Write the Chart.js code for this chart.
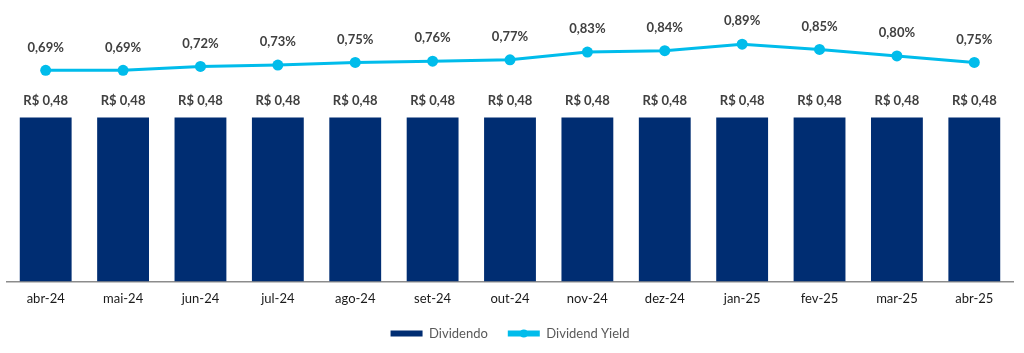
<!DOCTYPE html>
<html>
<head>
<meta charset="utf-8">
<script src="https://cdn.jsdelivr.net/npm/chart.js@4"></script>
<style>
  html, body { margin: 0; padding: 0; background: #fff; }
  #wrap { width: 1024px; height: 353px; }
</style>
</head>
<body>
<div id="wrap"><canvas id="chart"></canvas></div>
<script>
const months = ['abr-24', 'mai-24', 'jun-24', 'jul-24', 'ago-24', 'set-24', 'out-24',
  'nov-24', 'dez-24', 'jan-25', 'fev-25', 'mar-25', 'abr-25'];
const dividendo = [0.48, 0.48, 0.48, 0.48, 0.48, 0.48, 0.48, 0.48, 0.48, 0.48, 0.48, 0.48, 0.48];
const dividendYield = [0.69, 0.69, 0.72, 0.73, 0.75, 0.76, 0.77, 0.83, 0.84, 0.89, 0.85, 0.80, 0.75];

const NAVY = '#002D72';
const CYAN = '#00BCEB';
const FONT = 'Lato, "Open Sans", sans-serif';

const fmt = v => v.toFixed(2).replace('.', ',');

// value labels above bars and points
const valueLabels = {
  id: 'valueLabels',
  afterDatasetsDraw(chart) {
    const ctx = chart.ctx;
    ctx.save();
    ctx.font = 'bold 13px ' + FONT;
    ctx.fillStyle = '#404040';
    ctx.textAlign = 'center';
    ctx.textBaseline = 'middle';
    chart.getDatasetMeta(0).data.forEach((bar, i) => {
      ctx.fillText('R$ ' + fmt(dividendo[i]), bar.x, bar.y - 17);
    });
    chart.getDatasetMeta(1).data.forEach((pt, i) => {
      ctx.fillText(fmt(dividendYield[i]) + '%', pt.x, pt.y - 23);
    });
    ctx.restore();
  }
};

// dot in the middle of the line legend swatch
const legendDot = {
  id: 'legendDot',
  afterDraw(chart) {
    const lg = chart.legend;
    if (!lg || !lg.legendHitBoxes[1]) return;
    const hb = lg.legendHitBoxes[1];
    const ctx = chart.ctx;
    ctx.save();
    ctx.fillStyle = CYAN;
    ctx.beginPath();
    ctx.arc(hb.left + 16, hb.top + hb.height / 2, 4, 0, Math.PI * 2);
    ctx.fill();
    ctx.restore();
  }
};

new Chart(document.getElementById('chart'), {
  data: {
    labels: months,
    datasets: [{
      type: 'bar',
      label: 'Dividendo',
      data: dividendo,
      backgroundColor: NAVY,
      borderColor: NAVY,
      yAxisID: 'y',
      order: 2,
      categoryPercentage: 1,
      barPercentage: 0.67
    }, {
      type: 'line',
      label: 'Dividend Yield',
      data: dividendYield,
      borderColor: CYAN,
      backgroundColor: CYAN,
      borderWidth: 3,
      pointRadius: 5.5,
      pointBackgroundColor: CYAN,
      pointBorderWidth: 0,
      yAxisID: 'y1',
      order: 1
    }]
  },
  options: {
    responsive: true,
    maintainAspectRatio: false,
    animation: false,
    layout: {
      padding: { left: 7, right: 11, top: 10, bottom: 3 }
    },
    scales: {
      x: {
        grid: { display: false, drawTicks: false },
        border: { display: true, color: '#8c8c8c', width: 1.5 },
        ticks: { color: '#1a1a1a', font: { family: FONT, size: 13 }, padding: 10 }
      },
      y: {
        display: false,
        min: 0,
        max: 0.795
      },
      y1: {
        display: false,
        min: -0.925,
        max: 1.1515
      }
    },
    plugins: {
      legend: {
        position: 'bottom',
        labels: {
          color: '#595959',
          font: { family: FONT, size: 13 },
          boxWidth: 32,
          boxHeight: 6,
          padding: 10,
          generateLabels(chart) {
            const items = Chart.defaults.plugins.legend.labels.generateLabels(chart);
            items.sort((a, b) => a.datasetIndex - b.datasetIndex);
            items.forEach(it => {
              if (it.datasetIndex === 1) it.lineWidth = 0;
              if (it.datasetIndex === 0) it.text = it.text + '   ';
            });
            return items;
          }
        }
      },
      tooltip: { enabled: false }
    }
  },
  plugins: [valueLabels, legendDot]
});
</script>
</body>
</html>
